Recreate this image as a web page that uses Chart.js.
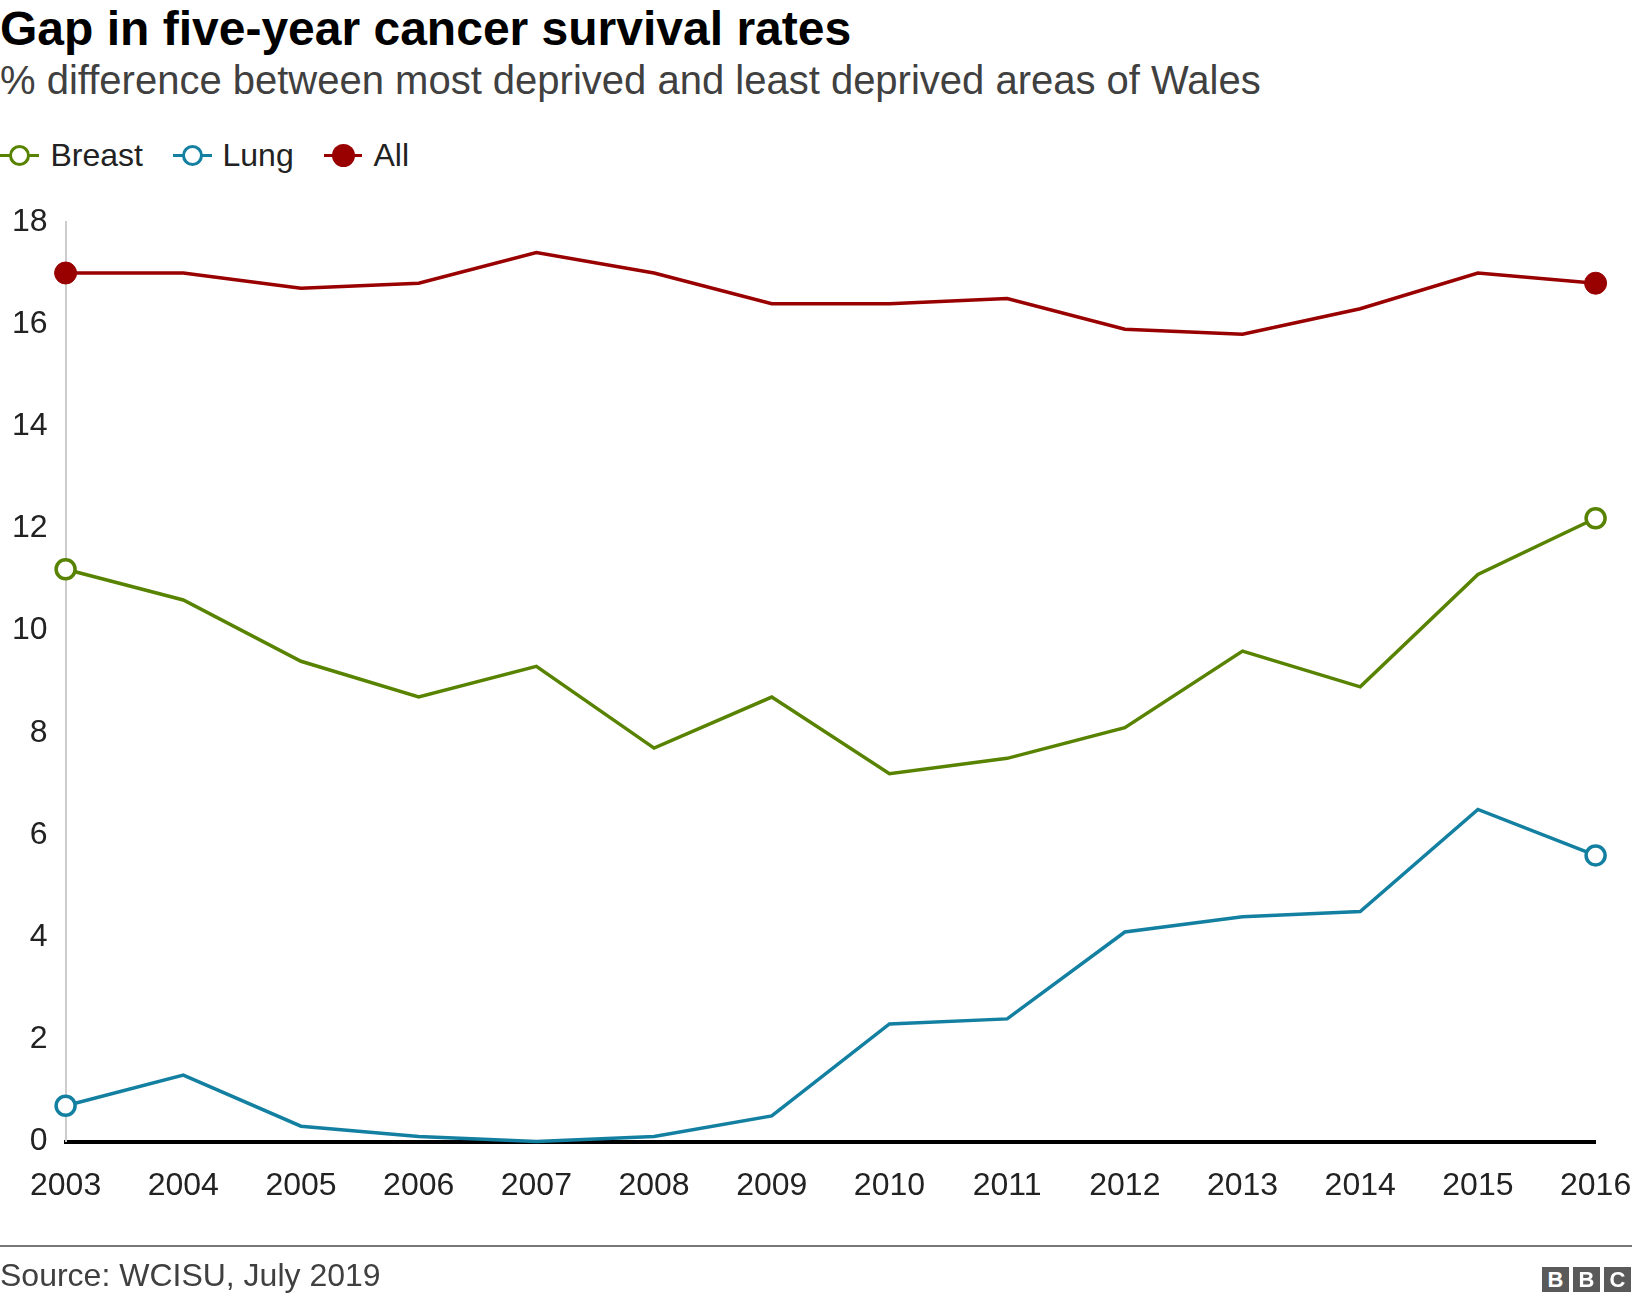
<!DOCTYPE html>
<html>
<head>
<meta charset="utf-8">
<script src="https://cdn.jsdelivr.net/npm/chart.js@4"></script>
<style>
  html, body { margin: 0; padding: 0; background: #fff; }
  body { width: 1632px; height: 1302px; position: relative; overflow: hidden;
         font-family: "Liberation Sans", Arial, Helvetica, sans-serif; }
  .abs { position: absolute; white-space: nowrap; line-height: 1; }
  #title { left: 0; top: 5px; font-size: 48px; font-weight: bold; color: #000; }
  #subtitle { left: 0; top: 60px; font-size: 40px; color: #404040; }
  .leg-text { top: 139px; font-size: 32px; color: #222; }
  .leg-line { position: absolute; height: 3.5px; top: 153.5px; }
  .leg-dot { position: absolute; box-sizing: border-box; width: 21px; height: 21px; border-radius: 50%; top: 145px; }
  #chartwrap { position: absolute; left: 0; top: 180px; width: 1632px; height: 1100px; }
  #rule { position: absolute; left: 0; top: 1245px; width: 1632px; height: 2px; background: #777; }
  #source { left: 0; top: 1259px; font-size: 32px; color: #404040; }
  .bbc { position: absolute; top: 1267px; width: 27px; height: 25px; background: #5a5a5a; color: #fff;
         font-weight: bold; font-size: 22px; line-height: 25px; text-align: center; }
</style>
</head>
<body>
<div id="title" class="abs">Gap in five-year cancer survival rates</div>
<div id="subtitle" class="abs">% difference between most deprived and least deprived areas of Wales</div>

<div id="legend"></div>

<div id="chartwrap"><canvas id="c" width="1632" height="1100" style="width:1632px;height:1100px"></canvas></div>

<div id="rule"></div>
<div id="source" class="abs">Source: WCISU, July 2019</div>
<div class="bbc" style="left:1542px">B</div>
<div class="bbc" style="left:1573px">B</div>
<div class="bbc" style="left:1604px">C</div>

<script>
// ---- data ----
const years = ["2003","2004","2005","2006","2007","2008","2009","2010","2011","2012","2013","2014","2015","2016"];
const breast = [11.2, 10.6, 9.4, 8.7, 9.3, 7.7, 8.7, 7.2, 7.5, 8.1, 9.6, 8.9, 11.1, 12.2];
const lung   = [0.7, 1.3, 0.3, 0.1, 0.0, 0.1, 0.5, 2.3, 2.4, 4.1, 4.4, 4.5, 6.5, 5.6];
const all    = [17.0, 17.0, 16.7, 16.8, 17.4, 17.0, 16.4, 16.4, 16.5, 15.9, 15.8, 16.3, 17.0, 16.8];
const yTicks = [0, 2, 4, 6, 8, 10, 12, 14, 16, 18];
const seriesNames = ["Breast", "Lung", "All"];

// ---- styles ----
const colors = { Breast: "#588300", Lung: "#1380A1", All: "#990000" };
const hollow = { Breast: true, Lung: true, All: false };
const FONT = '"Liberation Sans", Arial, Helvetica, sans-serif';

// ---- HTML legend ----
const legendPos = {
  Breast: { line: [0, 39], cx: 19.5, text: 50.5 },
  Lung:   { line: [172.5, 211.5], cx: 192, text: 222.5 },
  All:    { line: [324, 362], cx: 343, text: 373.5 }
};
const legendEl = document.getElementById('legend');
seriesNames.forEach(name => {
  const p = legendPos[name];
  const line = document.createElement('div');
  line.className = 'leg-line';
  line.style.left = p.line[0] + 'px';
  line.style.width = (p.line[1] - p.line[0]) + 'px';
  line.style.background = colors[name];
  legendEl.appendChild(line);
  const dot = document.createElement('div');
  dot.className = 'leg-dot';
  dot.style.left = (p.cx - 10.5) + 'px';
  if (hollow[name]) {
    dot.style.background = '#fff';
    dot.style.border = '3.5px solid ' + colors[name];
  } else {
    dot.style.background = colors[name];
    dot.style.width = '23px'; dot.style.height = '23px';
    dot.style.left = (p.cx - 11.5) + 'px';
    dot.style.top = '144px';
  }
  legendEl.appendChild(dot);
  const t = document.createElement('div');
  t.className = 'abs leg-text';
  t.style.left = p.text + 'px';
  t.textContent = name;
  legendEl.appendChild(t);
});

// ---- chart ----
const dataBy = { Breast: breast, Lung: lung, All: all };
function endRadius(r) {
  return ctx => (ctx.dataIndex === 0 || ctx.dataIndex === years.length - 1) ? r : 0;
}
const datasets = seriesNames.map(name => ({
  label: name,
  data: dataBy[name],
  borderColor: colors[name],
  backgroundColor: colors[name],
  borderWidth: 3.5,
  tension: 0,
  clip: false,
  pointRadius: endRadius(hollow[name] ? 9.5 : 11),
  pointHoverRadius: endRadius(hollow[name] ? 9.5 : 11),
  pointBackgroundColor: hollow[name] ? '#fff' : colors[name],
  pointBorderColor: colors[name],
  pointBorderWidth: hollow[name] ? 3.5 : 1
}));

new Chart(document.getElementById('c'), {
  type: 'line',
  data: { labels: years, datasets },
  options: {
    responsive: false,
    animation: false,
    events: [],
    layout: { padding: { left: 0, right: 36.4, top: 41.9, bottom: 0 } },
    plugins: { legend: { display: false }, title: { display: false }, tooltip: { enabled: false } },
    scales: {
      x: {
        type: 'category',
        offset: false,
        grid: { display: true, color: 'transparent', drawTicks: false },
        border: { display: true, color: '#000', width: 4 },
        ticks: {
          autoSkip: false, maxRotation: 0, minRotation: 0,
          padding: 25, color: '#222',
          font: { family: FONT, size: 32 }
        },
        afterFit: s => { s.height = 138.5; s.paddingLeft = 0; s.paddingRight = 0; }
      },
      y: {
        min: 0, max: 18,
        afterBuildTicks: s => { s.ticks = yTicks.map(v => ({ value: v })); },
        grid: { display: true, color: 'transparent', drawTicks: false },
        border: { display: true, color: '#cccccc', width: 2 },
        ticks: {
          padding: 18, color: '#222',
          font: { family: FONT, size: 32 }
        },
        afterFit: s => { s.width = 65.6; }
      }
    }
  }
});
</script>
</body>
</html>
